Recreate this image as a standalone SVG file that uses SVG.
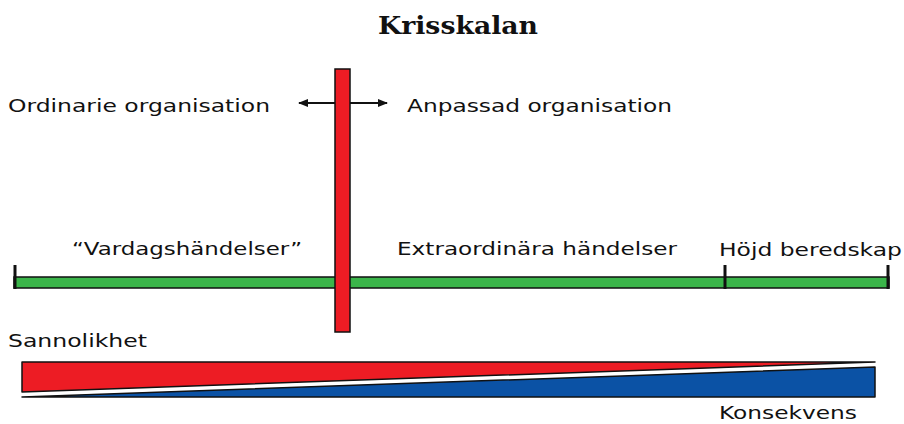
<svg xmlns="http://www.w3.org/2000/svg" width="904" height="424" viewBox="0 0 904 424">
<defs>
<style>
.t{font-family:"DejaVu Sans","Liberation Sans",sans-serif;font-size:18px;fill:#111;}
.title{font-family:"DejaVu Serif","Liberation Serif",serif;font-size:24px;font-weight:bold;fill:#111;}
.ln{stroke:#111;stroke-width:2;fill:none;}
.tick{stroke:#111;stroke-width:3;}
</style>
<marker id="ah" viewBox="0 0 10 10" refX="9" refY="5" markerWidth="5" markerHeight="5" orient="auto-start-reverse">
<path d="M0,1 L10,5 L0,9 Z" fill="#111"/>
</marker>
</defs>
<rect width="904" height="424" fill="#fff"/>
<text class="title" x="378" y="34" textLength="160" lengthAdjust="spacingAndGlyphs">Krisskalan</text>

<g id="connectors">
<line class="ln" x1="299" y1="103" x2="387" y2="103" marker-start="url(#ah)" marker-end="url(#ah)"/>
</g>

<g id="scale">
<rect x="14" y="277" width="875" height="11" fill="#3bb54a" stroke="#111" stroke-width="1.5"/>
<line class="tick" x1="15" y1="265" x2="15" y2="289"/>
<line class="tick" x1="725" y1="265" x2="725" y2="289"/>
<line class="tick" x1="888" y1="265" x2="888" y2="289"/>
</g>

<g id="divider">
<rect x="335" y="69" width="15" height="263" fill="#ed1c24" stroke="#111" stroke-width="1.5"/>
</g>

<g id="labels">
<text class="t" x="8" y="112" textLength="262" lengthAdjust="spacingAndGlyphs">Ordinarie organisation</text>
<text class="t" x="407" y="112" textLength="265" lengthAdjust="spacingAndGlyphs">Anpassad organisation</text>
<text class="t" x="72" y="255" textLength="230" lengthAdjust="spacingAndGlyphs">“Vardagshändelser”</text>
<text class="t" x="397" y="255" textLength="280" lengthAdjust="spacingAndGlyphs">Extraordinära händelser</text>
<text class="t" x="719" y="256" textLength="183" lengthAdjust="spacingAndGlyphs">Höjd beredskap</text>
<text class="t" x="8" y="347" textLength="139" lengthAdjust="spacingAndGlyphs">Sannolikhet</text>
<text class="t" x="719" y="419" textLength="138" lengthAdjust="spacingAndGlyphs">Konsekvens</text>
</g>

<g id="wedges">
<polygon points="22,362 875,362 22,392" fill="#ed1c24" stroke="#111" stroke-width="1.5" stroke-linejoin="round"/>
<polygon points="22,397 875,367 875,397" fill="#0b52a5" stroke="#111" stroke-width="1.5" stroke-linejoin="round"/>
<line x1="22" y1="394.5" x2="875" y2="364.5" stroke="#fff" stroke-width="2"/>
</g>
</svg>
